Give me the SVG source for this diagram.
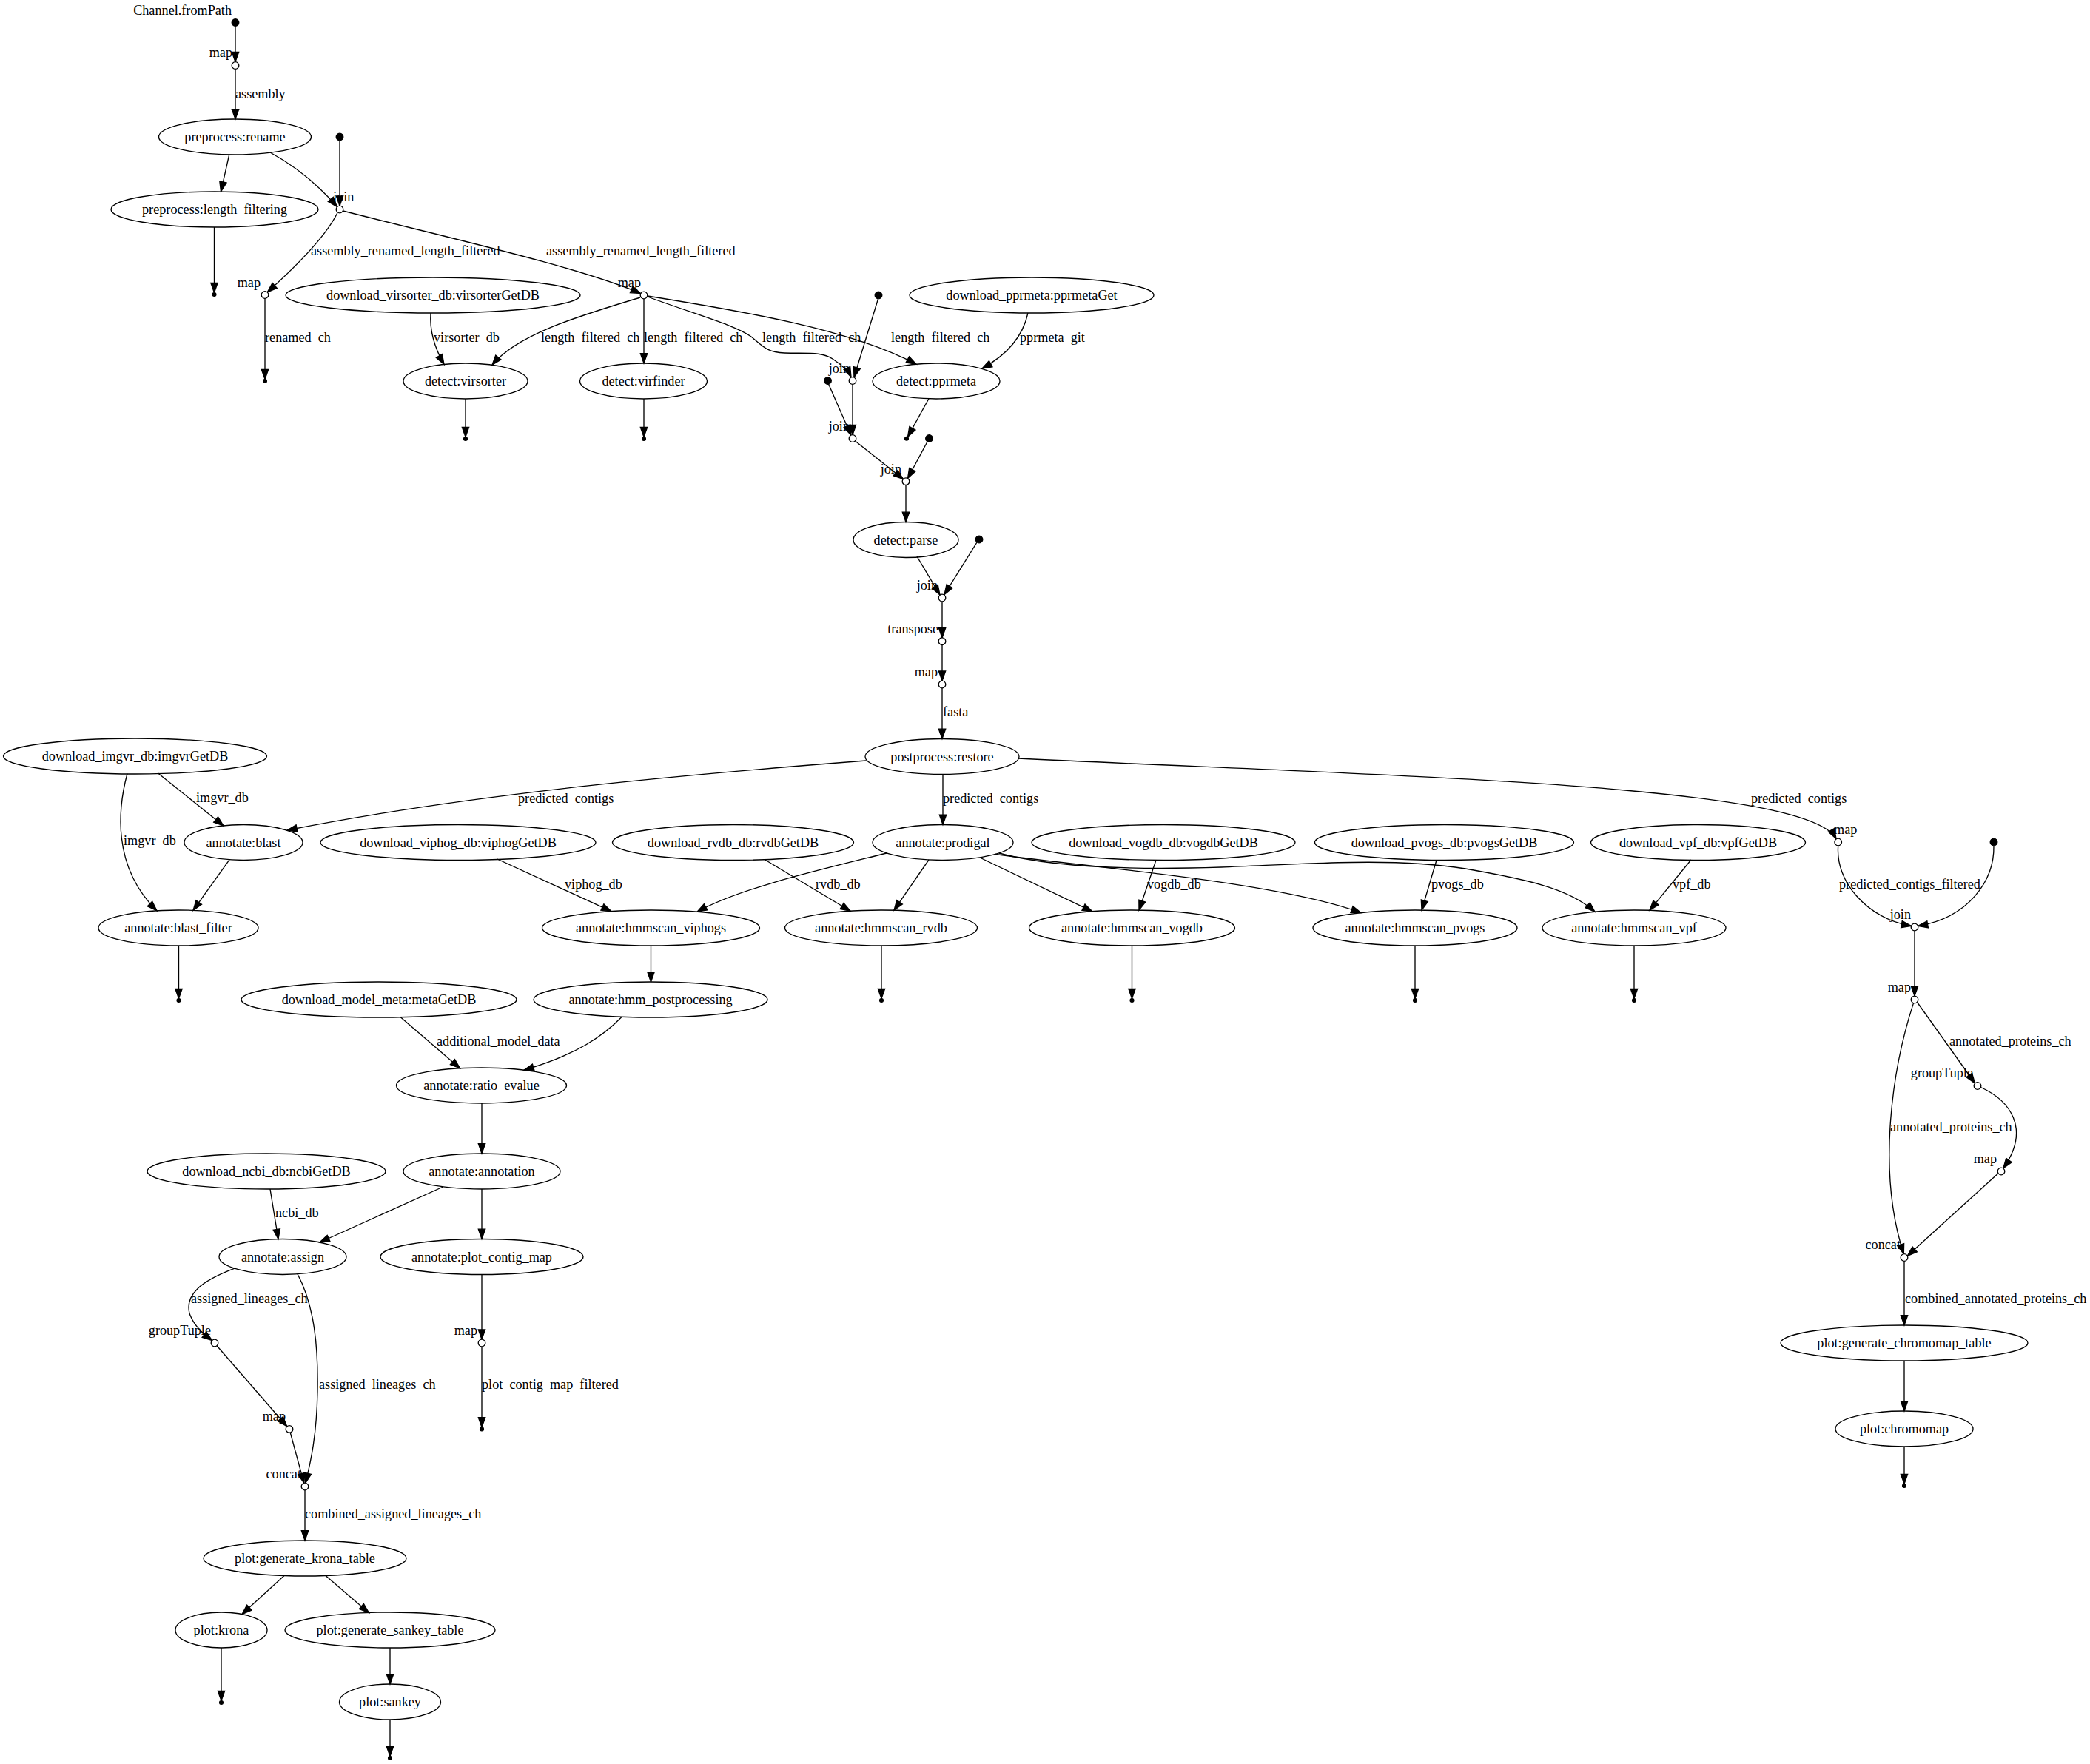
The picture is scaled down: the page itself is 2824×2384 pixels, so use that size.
<svg xmlns="http://www.w3.org/2000/svg" width="2824" height="2384" viewBox="0 0 2824 2384">
<defs>
<marker id="arr" markerUnits="userSpaceOnUse" markerWidth="14" markerHeight="10" refX="13.3" refY="4.67" orient="auto" overflow="visible">
<path d="M0,0 L13.3,4.67 L0,9.33 Z" fill="#000" stroke="#000" stroke-width="1.33"/>
</marker>
<style>
text{font-family:"Liberation Serif","Times New Roman",serif;font-size:18.2px;fill:#000}
.n text{text-anchor:middle}
.e{fill:none;stroke:#000;stroke-width:1.33;marker-end:url(#arr)}
ellipse{fill:none;stroke:#000;stroke-width:1.33}
.src{fill:#000;stroke:#000;stroke-width:1.33}
.op{fill:#fff;stroke:#000;stroke-width:1.33}
.end{fill:#000;stroke:#000;stroke-width:1.33}
.xl{text-anchor:end}
.xr{text-anchor:start}
.el{text-anchor:start}
</style>
</defs>
<rect width="2824" height="2384" fill="#fff"/>

<g id="edges">
<path class="e" d="M318,35.3 L318,83.7"/>
<path class="e" d="M318,93.3 L318,161"/>
<path class="e" d="M309.6,209.5 L298.5,259"/>
<path class="e" d="M365,206 C400,225 430,250 455.5,279.5"/>
<path class="e" d="M459,189.8 L459,278.2"/>
<path class="e" d="M289.5,307 L289.5,395.6"/>
<path class="e" d="M456,287.5 C440,320 400,360 361.3,394.8"/>
<path class="e" d="M463.5,285 C600,320 780,360 865.5,396.5"/>
<path class="e" d="M358,403.3 L358,512.6"/>
<path class="e" d="M582,423 C580,450 590,475 600,492.5"/>
<path class="e" d="M865,402 C790,425 700,450 665,493.3"/>
<path class="e" d="M870,403.8 L870,491"/>
<path class="e" d="M875,401 C940,425 995,440 1015,455 C1030,467 1035,476 1060,477 C1090,478 1110,475 1125,485 C1140,495 1147,503 1150,509.5"/>
<path class="e" d="M1186.5,404 L1154,509.8"/>
<path class="e" d="M875,400 C1000,420 1150,445 1238,492.2"/>
<path class="e" d="M1389,423 C1382,455 1360,480 1327,498"/>
<path class="e" d="M1152,519.3 L1152,587.7"/>
<path class="e" d="M1119.5,519 L1149.8,588"/>
<path class="e" d="M1255,538.8 L1226.5,590.4"/>
<path class="e" d="M629,539 L629,590.6"/>
<path class="e" d="M870,539 L870,590.6"/>
<path class="e" d="M1155.5,596 L1220.5,647.5"/>
<path class="e" d="M1253,597 L1226.5,646.5"/>
<path class="e" d="M1224,655.5 L1224,705.5"/>
<path class="e" d="M1239,752 L1270,804"/>
<path class="e" d="M1320,733 L1276,803.5"/>
<path class="e" d="M1273,812.8 L1273,862"/>
<path class="e" d="M1273,871.5 L1273,920.2"/>
<path class="e" d="M1273,929.8 L1273,998.5"/>
<path class="e" d="M1274,1046.5 L1274,1114.5"/>
<path class="e" d="M1170,1028 C950,1045 650,1070 388,1122"/>
<path class="e" d="M1376,1025 C1900,1050 2440,1060 2481,1133.5"/>
<path class="e" d="M213.6,1045 L302,1115.9"/>
<path class="e" d="M172,1045.5 C160,1090 150,1170 212,1230.9"/>
<path class="e" d="M310,1161.8 L261,1230.4"/>
<path class="e" d="M241.5,1278 L241.5,1349.6"/>
<path class="e" d="M672,1161 L826,1231.6"/>
<path class="e" d="M1033,1161.5 L1149,1231.3"/>
<path class="e" d="M1198,1153 C1110,1175 1000,1200 942,1232.3"/>
<path class="e" d="M1255,1162 L1208,1230.2"/>
<path class="e" d="M1324,1159 L1476,1231.9"/>
<path class="e" d="M1345,1154.5 C1450,1170 1720,1190 1839,1233.6"/>
<path class="e" d="M1350,1153 C1420,1172 1530,1176 1650,1172 C1760,1168 1880,1158 1980,1174 C2060,1188 2120,1200 2155,1232.3"/>
<path class="e" d="M1562,1162.5 L1539,1230.2"/>
<path class="e" d="M1941,1162.5 L1921,1230"/>
<path class="e" d="M2285,1162 L2229,1230.3"/>
<path class="e" d="M1191,1278 L1191,1349.6"/>
<path class="e" d="M1529.5,1278 L1529.5,1349.6"/>
<path class="e" d="M1912,1278 L1912,1349.6"/>
<path class="e" d="M2208,1278 L2208,1349.6"/>
<path class="e" d="M879.5,1278 L879.5,1327"/>
<path class="e" d="M2483.7,1143 C2480,1190 2520,1240 2582.5,1251.5"/>
<path class="e" d="M2694,1143 C2695,1190 2660,1240 2591.5,1251.5"/>
<path class="e" d="M2587,1258 L2587,1346"/>
<path class="e" d="M2585.5,1355.6 C2558,1440 2535,1580 2572.3,1694.7"/>
<path class="e" d="M2590.5,1354.5 L2668.5,1464"/>
<path class="e" d="M2676.5,1469.5 C2715,1487 2745,1525 2706.8,1578.8"/>
<path class="e" d="M2700,1585.8 L2577.3,1697.3"/>
<path class="e" d="M2573,1704.3 L2573,1791"/>
<path class="e" d="M2573,1839 L2573,1907"/>
<path class="e" d="M2573,1955 L2573,2005.6"/>
<path class="e" d="M541,1374.5 L621.5,1443.8"/>
<path class="e" d="M840,1374.5 C815,1400 780,1425 708,1446.2"/>
<path class="e" d="M651,1491 L651,1559"/>
<path class="e" d="M365,1607 L376,1674.6"/>
<path class="e" d="M598.5,1604 L432,1679"/>
<path class="e" d="M651,1607 L651,1674.5"/>
<path class="e" d="M317,1714.2 C270,1732 250,1750 256,1775 C262,1792 275,1803 286.6,1811.6"/>
<path class="e" d="M402,1721.8 C425,1765 430,1820 429,1880 C428,1940 420,1975 412.8,2004.2"/>
<path class="e" d="M293,1818.8 L387.7,1927.7"/>
<path class="e" d="M392.2,1936 L410.8,2004.4"/>
<path class="e" d="M412,2013.8 L412,2082"/>
<path class="e" d="M384,2129.5 L327,2181.6"/>
<path class="e" d="M440,2129.5 L498.5,2179.7"/>
<path class="e" d="M299,2227 L299,2298.6"/>
<path class="e" d="M527,2227 L527,2276"/>
<path class="e" d="M527,2324 L527,2373.6"/>
<path class="e" d="M651,1722.5 L651,1810.2"/>
<path class="e" d="M651,1819.8 L651,1929"/>

<g id="edge-labels">
<text class="el" x="318" y="133">assembly</text>
<text class="el" x="420" y="345">assembly_renamed_length_filtered</text>
<text class="el" x="738" y="345">assembly_renamed_length_filtered</text>
<text class="el" x="358" y="462">renamed_ch</text>
<text class="el" x="586" y="462">virsorter_db</text>
<text class="el" x="731" y="462">length_filtered_ch</text>
<text class="el" x="870" y="462">length_filtered_ch</text>
<text class="el" x="1030" y="462">length_filtered_ch</text>
<text class="el" x="1204" y="462">length_filtered_ch</text>
<text class="el" x="1378" y="462">pprmeta_git</text>
<text class="el" x="1274" y="968">fasta</text>
<text class="el" x="700" y="1085">predicted_contigs</text>
<text class="el" x="1274" y="1085">predicted_contigs</text>
<text class="el" x="2366" y="1085">predicted_contigs</text>
<text class="el" x="265" y="1084">imgvr_db</text>
<text class="el" x="167" y="1142">imgvr_db</text>
<text class="el" x="763" y="1201">viphog_db</text>
<text class="el" x="1102" y="1201">rvdb_db</text>
<text class="el" x="1550" y="1201">vogdb_db</text>
<text class="el" x="1934" y="1201">pvogs_db</text>
<text class="el" x="2260" y="1201">vpf_db</text>
<text class="el" x="2485" y="1201">predicted_contigs_filtered</text>
<text class="el" x="590" y="1413">additional_model_data</text>
<text class="el" x="372" y="1645">ncbi_db</text>
<text class="el" x="258" y="1761">assigned_lineages_ch</text>
<text class="el" x="431" y="1877">assigned_lineages_ch</text>
<text class="el" x="651" y="1877">plot_contig_map_filtered</text>
<text class="el" x="412" y="2052">combined_assigned_lineages_ch</text>
<text class="el" x="2634" y="1413">annotated_proteins_ch</text>
<text class="el" x="2554" y="1529">annotated_proteins_ch</text>
<text class="el" x="2574" y="1761">combined_annotated_proteins_ch</text>
</g>
</g>

<!-- source points -->
<g id="src1"><circle class="src" cx="318" cy="30.5" r="4.8"/><text class="xl" x="313" y="20">Channel.fromPath</text></g>
<g id="src2"><circle class="src" cx="459" cy="185" r="4.8"/></g>
<g id="src3"><circle class="src" cx="1187" cy="399" r="4.8"/></g>
<g id="src4"><circle class="src" cx="1118.5" cy="514.5" r="4.8"/></g>
<g id="src5"><circle class="src" cx="1255.5" cy="592.5" r="4.8"/></g>
<g id="src6"><circle class="src" cx="1323" cy="729" r="4.8"/></g>
<g id="src7"><circle class="src" cx="2694" cy="1138" r="4.8"/></g>

<!-- operators -->
<g id="op-map1"><circle class="op" cx="318" cy="88.5" r="4.8"/><text class="xl" x="314" y="77">map</text></g>
<g id="op-join1"><circle class="op" cx="459" cy="283" r="4.8"/><text class="xr" x="450" y="272">join</text></g>
<g id="op-map2"><circle class="op" cx="358" cy="398.5" r="4.8"/><text class="xl" x="352" y="387.5">map</text></g>
<g id="op-map3"><circle class="op" cx="870" cy="399" r="4.8"/><text class="xl" x="866" y="388">map</text></g>
<g id="op-join2"><circle class="op" cx="1152" cy="514.5" r="4.8"/><text class="xl" x="1148" y="503.5">join</text></g>
<g id="op-join3"><circle class="op" cx="1152" cy="592.5" r="4.8"/><text class="xl" x="1148" y="581.5">join</text></g>
<g id="op-join4"><circle class="op" cx="1224" cy="650.7" r="4.8"/><text class="xl" x="1218" y="640">join</text></g>
<g id="op-join5"><circle class="op" cx="1273" cy="808" r="4.8"/><text class="xl" x="1267" y="797">join</text></g>
<g id="op-transpose"><circle class="op" cx="1273" cy="866.7" r="4.8"/><text class="xl" x="1268" y="856">transpose</text></g>
<g id="op-map4"><circle class="op" cx="1273" cy="925" r="4.8"/><text class="xl" x="1267" y="914">map</text></g>
<g id="op-map5"><circle class="op" cx="2483.7" cy="1138" r="4.8"/><text class="xr" x="2478" y="1127">map</text></g>
<g id="op-join6"><circle class="op" cx="2587" cy="1253" r="4.8"/><text class="xl" x="2582" y="1242">join</text></g>
<g id="op-map6"><circle class="op" cx="2587" cy="1351" r="4.8"/><text class="xl" x="2582" y="1340">map</text></g>
<g id="op-groupTuple2"><circle class="op" cx="2672" cy="1467.5" r="4.8"/><text class="xl" x="2666" y="1456">groupTuple</text></g>
<g id="op-map9"><circle class="op" cx="2704" cy="1583" r="4.8"/><text class="xl" x="2698" y="1572">map</text></g>
<g id="op-concat2"><circle class="op" cx="2573" cy="1699.5" r="4.8"/><text class="xl" x="2568" y="1688">concat</text></g>
<g id="op-map7"><circle class="op" cx="651" cy="1815" r="4.8"/><text class="xl" x="645" y="1804">map</text></g>
<g id="op-groupTuple1"><circle class="op" cx="290" cy="1815" r="4.8"/><text class="xl" x="285" y="1804">groupTuple</text></g>
<g id="op-map8"><circle class="op" cx="391" cy="1931.4" r="4.8"/><text class="xl" x="386" y="1920">map</text></g>
<g id="op-concat1"><circle class="op" cx="412" cy="2009" r="4.8"/><text class="xl" x="407" y="1998">concat</text></g>

<!-- processes -->
<g class="n" id="preprocess-rename"><ellipse cx="317.5" cy="185" rx="103" ry="24"/><text x="317.5" y="191">preprocess:rename</text></g>
<g class="n" id="preprocess-length_filtering"><ellipse cx="290" cy="283" rx="140" ry="24"/><text x="290" y="289">preprocess:length_filtering</text></g>
<g class="n" id="download_virsorter_db"><ellipse cx="585" cy="399" rx="199" ry="24"/><text x="585" y="405">download_virsorter_db:virsorterGetDB</text></g>
<g class="n" id="download_pprmeta"><ellipse cx="1394" cy="399" rx="165" ry="24"/><text x="1394" y="405">download_pprmeta:pprmetaGet</text></g>
<g class="n" id="detect-virsorter"><ellipse cx="629" cy="515" rx="84" ry="24"/><text x="629" y="521">detect:virsorter</text></g>
<g class="n" id="detect-virfinder"><ellipse cx="869.5" cy="515" rx="86" ry="24"/><text x="869.5" y="521">detect:virfinder</text></g>
<g class="n" id="detect-pprmeta"><ellipse cx="1265" cy="515" rx="86" ry="24"/><text x="1265" y="521">detect:pprmeta</text></g>
<g class="n" id="detect-parse"><ellipse cx="1224" cy="729.5" rx="71" ry="24"/><text x="1224" y="735.5">detect:parse</text></g>
<g class="n" id="postprocess-restore"><ellipse cx="1273" cy="1022.5" rx="104" ry="24"/><text x="1273" y="1028.5">postprocess:restore</text></g>
<g class="n" id="download_imgvr_db"><ellipse cx="182.5" cy="1022" rx="178" ry="24"/><text x="182.5" y="1028">download_imgvr_db:imgvrGetDB</text></g>
<g class="n" id="annotate-blast"><ellipse cx="329" cy="1138.5" rx="80" ry="24"/><text x="329" y="1144.5">annotate:blast</text></g>
<g class="n" id="download_viphog_db"><ellipse cx="619" cy="1138.5" rx="186" ry="24"/><text x="619" y="1144.5">download_viphog_db:viphogGetDB</text></g>
<g class="n" id="download_rvdb_db"><ellipse cx="990.5" cy="1138.5" rx="163" ry="24"/><text x="990.5" y="1144.5">download_rvdb_db:rvdbGetDB</text></g>
<g class="n" id="annotate-prodigal"><ellipse cx="1274" cy="1138.5" rx="95" ry="24"/><text x="1274" y="1144.5">annotate:prodigal</text></g>
<g class="n" id="download_vogdb_db"><ellipse cx="1572" cy="1138.5" rx="178" ry="24"/><text x="1572" y="1144.5">download_vogdb_db:vogdbGetDB</text></g>
<g class="n" id="download_pvogs_db"><ellipse cx="1951.5" cy="1138.5" rx="175" ry="24"/><text x="1951.5" y="1144.5">download_pvogs_db:pvogsGetDB</text></g>
<g class="n" id="download_vpf_db"><ellipse cx="2294.5" cy="1138.5" rx="145" ry="24"/><text x="2294.5" y="1144.5">download_vpf_db:vpfGetDB</text></g>
<g class="n" id="annotate-blast_filter"><ellipse cx="241" cy="1254" rx="108" ry="24"/><text x="241" y="1260">annotate:blast_filter</text></g>
<g class="n" id="annotate-hmmscan_viphogs"><ellipse cx="879.5" cy="1254" rx="147" ry="24"/><text x="879.5" y="1260">annotate:hmmscan_viphogs</text></g>
<g class="n" id="annotate-hmmscan_rvdb"><ellipse cx="1190.5" cy="1254" rx="130" ry="24"/><text x="1190.5" y="1260">annotate:hmmscan_rvdb</text></g>
<g class="n" id="annotate-hmmscan_vogdb"><ellipse cx="1529.5" cy="1254" rx="139" ry="24"/><text x="1529.5" y="1260">annotate:hmmscan_vogdb</text></g>
<g class="n" id="annotate-hmmscan_pvogs"><ellipse cx="1912" cy="1254" rx="138" ry="24"/><text x="1912" y="1260">annotate:hmmscan_pvogs</text></g>
<g class="n" id="annotate-hmmscan_vpf"><ellipse cx="2208" cy="1254" rx="124" ry="24"/><text x="2208" y="1260">annotate:hmmscan_vpf</text></g>
<g class="n" id="download_model_meta"><ellipse cx="512" cy="1351" rx="186" ry="24"/><text x="512" y="1357">download_model_meta:metaGetDB</text></g>
<g class="n" id="annotate-hmm_postprocessing"><ellipse cx="879" cy="1351" rx="158" ry="24"/><text x="879" y="1357">annotate:hmm_postprocessing</text></g>
<g class="n" id="annotate-ratio_evalue"><ellipse cx="650.5" cy="1467" rx="115" ry="24"/><text x="650.5" y="1473">annotate:ratio_evalue</text></g>
<g class="n" id="download_ncbi_db"><ellipse cx="360" cy="1583" rx="161" ry="24"/><text x="360" y="1589">download_ncbi_db:ncbiGetDB</text></g>
<g class="n" id="annotate-annotation"><ellipse cx="651" cy="1583" rx="106" ry="24"/><text x="651" y="1589">annotate:annotation</text></g>
<g class="n" id="annotate-assign"><ellipse cx="382" cy="1698.5" rx="86" ry="24"/><text x="382" y="1704.5">annotate:assign</text></g>
<g class="n" id="annotate-plot_contig_map"><ellipse cx="651" cy="1698.5" rx="137" ry="24"/><text x="651" y="1704.5">annotate:plot_contig_map</text></g>
<g class="n" id="plot-generate_krona_table"><ellipse cx="412" cy="2106" rx="137" ry="24"/><text x="412" y="2112">plot:generate_krona_table</text></g>
<g class="n" id="plot-krona"><ellipse cx="299" cy="2203" rx="62" ry="24"/><text x="299" y="2209">plot:krona</text></g>
<g class="n" id="plot-generate_sankey_table"><ellipse cx="527" cy="2203" rx="142" ry="24"/><text x="527" y="2209">plot:generate_sankey_table</text></g>
<g class="n" id="plot-sankey"><ellipse cx="527" cy="2300" rx="68.5" ry="24"/><text x="527" y="2306">plot:sankey</text></g>
<g class="n" id="plot-generate_chromomap_table"><ellipse cx="2573" cy="1815" rx="167" ry="24"/><text x="2573" y="1821">plot:generate_chromomap_table</text></g>
<g class="n" id="plot-chromomap"><ellipse cx="2573" cy="1931" rx="93" ry="24"/><text x="2573" y="1937">plot:chromomap</text></g>

<!-- terminal points -->
<g id="end-lf"><circle class="end" cx="289.5" cy="398" r="2.4"/></g>
<g id="end-map2"><circle class="end" cx="358" cy="515" r="2.4"/></g>
<g id="end-virsorter"><circle class="end" cx="629" cy="593" r="2.4"/></g>
<g id="end-virfinder"><circle class="end" cx="870" cy="593" r="2.4"/></g>
<g id="end-pprmeta"><circle class="end" cx="1225" cy="592.7" r="2.4"/></g>
<g id="end-blast_filter"><circle class="end" cx="241.5" cy="1352" r="2.4"/></g>
<g id="end-rvdb"><circle class="end" cx="1191" cy="1352" r="2.4"/></g>
<g id="end-vogdb"><circle class="end" cx="1529.5" cy="1352" r="2.4"/></g>
<g id="end-pvogs"><circle class="end" cx="1912" cy="1352" r="2.4"/></g>
<g id="end-vpf"><circle class="end" cx="2208" cy="1352" r="2.4"/></g>
<g id="end-map7"><circle class="end" cx="651" cy="1931.4" r="2.4"/></g>
<g id="end-krona"><circle class="end" cx="299" cy="2301" r="2.4"/></g>
<g id="end-sankey"><circle class="end" cx="527" cy="2376" r="2.4"/></g>
<g id="end-chromomap"><circle class="end" cx="2573" cy="2008" r="2.4"/></g>
</svg>
